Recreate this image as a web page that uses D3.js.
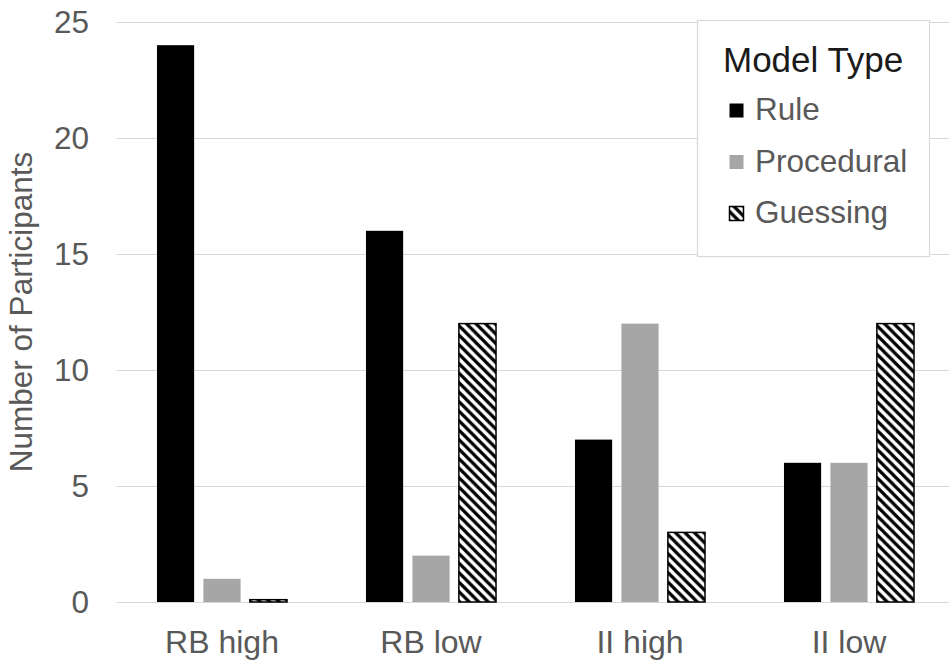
<!DOCTYPE html>
<html>
<head>
<meta charset="utf-8">
<script src="https://cdn.jsdelivr.net/npm/d3@7"></script>
<style>
  html, body { margin: 0; padding: 0; background: #fff; }
  svg { display: block; font-family: "Liberation Sans", Arial, sans-serif; }
</style>
</head>
<body>
<svg id="chart" width="949" height="665"></svg>
<script>
// ---- data ----
const categories = ["RB high", "RB low", "II high", "II low"];
const seriesNames = ["Rule", "Procedural", "Guessing"];
const ruleValues = [24, 16, 7, 6];
const proceduralValues = [1, 2, 12, 6];
const guessingValues = [0.1, 12, 3, 12];
const yTicks = [0, 5, 10, 15, 20, 25];
const legendTitle = "Model Type";
const yTitle = "Number of Participants";

const seriesValues = [ruleValues, proceduralValues, guessingValues];
const data = categories.map((c, i) => ({
  category: c,
  values: seriesNames.map((s, j) => ({ series: s, value: seriesValues[j][i] }))
}));

// ---- layout ----
const svg = d3.select("#chart");
const plot = { left: 117.5, right: 953.5, top: 22, bottom: 602 };
const textColor = "#595959";
const gridColor = "#d9d9d9";

const defs = svg.append("defs");
const pat = defs.append("pattern")
  .attr("id", "hatch")
  .attr("patternUnits", "userSpaceOnUse")
  .attr("width", 9.5).attr("height", 9.5);
pat.append("rect").attr("width", 9.5).attr("height", 9.5).attr("fill", "#fff");
pat.append("path")
  .attr("d", "M-4.75,4.75 L4.75,14.25 M0,0 L9.5,9.5 M4.75,-4.75 L14.25,4.75")
  .attr("stroke", "#000").attr("stroke-width", 3.2);

const fills = { "Rule": "#000000", "Procedural": "#a6a6a6", "Guessing": "url(#hatch)" };
const strokes = { "Rule": "none", "Procedural": "none", "Guessing": "#000" };

const x0 = d3.scaleBand()
  .domain(categories)
  .range([plot.left, plot.right])
  .paddingInner(1 / 3)
  .paddingOuter(1 / 6);

const x1 = d3.scaleBand()
  .domain(seriesNames)
  .range([0, x0.bandwidth()])
  .paddingInner(0.2)
  .paddingOuter(0.1);

const y = d3.scaleLinear().domain([0, 25]).range([plot.bottom, plot.top]);

// gridlines
const yAxis = d3.axisLeft(y).tickValues(yTicks)
  .tickSize(-(plot.right - plot.left)).tickPadding(27);
const gy = svg.append("g")
  .attr("transform", `translate(${plot.left - 1.5},0)`)
  .call(yAxis);
gy.select(".domain").remove();
gy.selectAll(".tick line").attr("stroke", gridColor).attr("stroke-width", 1.2);
gy.selectAll(".tick text")
  .attr("fill", textColor)
  .attr("font-size", 31.5)
  .attr("font-family", "Liberation Sans, Arial, sans-serif");

// bars
const groups = svg.append("g").selectAll("g")
  .data(data).join("g")
  .attr("transform", d => `translate(${x0(d.category)},0)`);

groups.selectAll("rect")
  .data(d => d.values).join("rect")
  .attr("x", d => x1(d.series))
  .attr("width", x1.bandwidth())
  .attr("y", d => y(d.value))
  .attr("height", d => y(0) - y(d.value))
  .attr("fill", d => fills[d.series])
  .attr("stroke", d => strokes[d.series])
  .attr("stroke-width", 1.5);

// x axis labels
const xAxis = d3.axisBottom(x0).tickSize(0).tickPadding(28);
const gx = svg.append("g")
  .attr("transform", `translate(0,${plot.bottom})`)
  .call(xAxis);
gx.select(".domain").remove();
gx.selectAll(".tick text")
  .attr("fill", textColor)
  .attr("font-size", 32)
  .attr("font-family", "Liberation Sans, Arial, sans-serif");

// y title
svg.append("text")
  .attr("transform", `translate(32,${(plot.top + plot.bottom) / 2}) rotate(-90)`)
  .attr("text-anchor", "middle")
  .attr("fill", textColor)
  .attr("font-size", 31.5)
  .text(yTitle);

// legend
const lg = svg.append("g");
lg.append("rect")
  .attr("x", 697.5).attr("y", 20.5)
  .attr("width", 232).attr("height", 236)
  .attr("fill", "#fff")
  .attr("stroke", gridColor).attr("stroke-width", 1.2);
lg.append("text")
  .attr("x", 723).attr("y", 72)
  .attr("fill", "#1a1a1a")
  .attr("font-size", 35)
  .text(legendTitle);

const rowY = d3.scalePoint().domain(seriesNames).range([120, 223]);
const items = lg.selectAll("g.item").data(seriesNames).join("g")
  .attr("class", "item")
  .attr("transform", d => `translate(0,${rowY(d)})`);
items.append("rect")
  .attr("x", 729.5).attr("y", -16.5)
  .attr("width", 14).attr("height", 14)
  .attr("fill", d => fills[d])
  .attr("stroke", d => strokes[d])
  .attr("stroke-width", 1.5);
items.append("text")
  .attr("x", 755).attr("y", 0)
  .attr("fill", textColor)
  .attr("font-size", 31.5)
  .text(d => d);
</script>
</body>
</html>
